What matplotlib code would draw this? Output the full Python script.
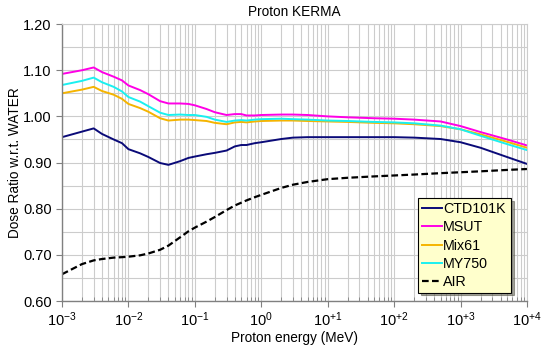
import matplotlib
matplotlib.use("Agg")
import matplotlib.pyplot as plt
from matplotlib.ticker import LogLocator, MultipleLocator, FixedLocator, NullFormatter

plt.rcParams['font.family'] = ['Liberation Sans', 'DejaVu Sans']
plt.rcParams['mathtext.fontset'] = 'custom'
plt.rcParams['mathtext.rm'] = 'Liberation Sans'
plt.rcParams['mathtext.it'] = 'Liberation Sans'

# Энергия протонов (МэВ)
energy = [0.001, 0.002, 0.003, 0.004, 0.006, 0.008, 0.01, 0.015, 0.02, 0.03, 0.04,
          0.06, 0.08, 0.1, 0.15, 0.2, 0.3, 0.4, 0.5, 0.6, 0.8, 1, 2, 3, 5, 10, 20,
          50, 100, 200, 500, 1000, 2000, 5000, 10000]

ctd101k = [0.955, 0.967, 0.974, 0.962, 0.950, 0.942, 0.929, 0.920, 0.912, 0.899, 0.895,
           0.903, 0.910, 0.913, 0.918, 0.921, 0.926, 0.935, 0.938, 0.938, 0.942, 0.944,
           0.951, 0.954, 0.955, 0.955, 0.955, 0.955, 0.955, 0.954, 0.951, 0.944, 0.932,
           0.912, 0.897]
msut = [1.092, 1.100, 1.106, 1.096, 1.086, 1.078, 1.067, 1.057, 1.048, 1.033, 1.028,
        1.028, 1.027, 1.024, 1.016, 1.009, 1.003, 1.005, 1.005, 1.002, 1.002, 1.003,
        1.004, 1.004, 1.003, 1.000, 0.998, 0.996, 0.995, 0.993, 0.989, 0.979, 0.966,
        0.950, 0.937]
mix61 = [1.050, 1.058, 1.064, 1.055, 1.047, 1.038, 1.027, 1.018, 1.010, 0.996, 0.991,
         0.993, 0.993, 0.992, 0.990, 0.986, 0.983, 0.987, 0.988, 0.987, 0.989, 0.990,
         0.991, 0.991, 0.990, 0.989, 0.988, 0.986, 0.985, 0.983, 0.979, 0.972, 0.961,
         0.945, 0.932]
my750 = [1.068, 1.077, 1.084, 1.074, 1.064, 1.054, 1.042, 1.032, 1.022, 1.008, 1.003,
         1.004, 1.003, 1.003, 0.999, 0.993, 0.988, 0.991, 0.992, 0.991, 0.993, 0.994,
         0.995, 0.994, 0.993, 0.991, 0.990, 0.988, 0.987, 0.985, 0.980, 0.972, 0.958,
         0.940, 0.927]
air = [0.658, 0.680, 0.688, 0.691, 0.694, 0.695, 0.696, 0.699, 0.703, 0.711, 0.720,
       0.738, 0.751, 0.759, 0.772, 0.782, 0.797, 0.807, 0.813, 0.818, 0.825, 0.830,
       0.845, 0.852, 0.858, 0.864, 0.867, 0.870, 0.872, 0.874, 0.877, 0.879, 0.881,
       0.884, 0.886]

x_ticks = [1e-3, 1e-2, 1e-1, 1, 10, 100, 1000, 10000]
x_tick_labels = [r'$10^{-3}$', r'$10^{-2}$', r'$10^{-1}$', r'$10^{0}$',
                 r'$10^{+1}$', r'$10^{+2}$', r'$10^{+3}$', r'$10^{+4}$']
y_ticks = [0.60, 0.70, 0.80, 0.90, 1.00, 1.10, 1.20]

fig = plt.figure(figsize=(5.5, 3.49), dpi=100)
ax = fig.add_axes([0.1127, 0.1375, 0.8455, 0.7935])

lw = 1.4
ax.plot(energy, ctd101k, color='#0a0a78', lw=lw, label='CTD101K')
ax.plot(energy, msut, color='#ff00e6', lw=lw, label='MSUT')
ax.plot(energy, mix61, color='#f5b400', lw=lw, label='Mix61')
ax.plot(energy, my750, color='#1af0f0', lw=lw, label='MY750')
ax.plot(energy, air, color='black', lw=1.6, ls=(0, (3, 1.5)), label='AIR')

ax.set_xscale('log')
ax.set_xlim(1e-3, 1e4)
ax.set_ylim(0.6, 1.2)

ax.xaxis.set_major_locator(FixedLocator(x_ticks))
ax.set_xticklabels(x_tick_labels)
ax.xaxis.set_minor_locator(LogLocator(base=10, subs=range(2, 10), numticks=20))
ax.xaxis.set_minor_formatter(NullFormatter())
ax.yaxis.set_major_locator(FixedLocator(y_ticks))
ax.set_yticklabels(['%.2f' % v for v in y_ticks])
ax.yaxis.set_minor_locator(MultipleLocator(0.05))

# Сетка
ax.grid(True, which='both', color='#cccccc', lw=0.8)
ax.set_axisbelow(True)

for side in ['top', 'right']:
    ax.spines[side].set_color('#cccccc')
for side in ['left', 'bottom']:
    ax.spines[side].set_color('#808080')
    ax.spines[side].set_linewidth(1.0)

ax.tick_params(axis='both', which='major', labelsize=10.5, colors='#808080',
               labelcolor='black', length=4, direction='out')
ax.tick_params(axis='x', which='minor', direction='in', length=3, colors='#808080')
ax.tick_params(axis='y', which='minor', length=0)
ax.tick_params(axis='x', pad=3)

ax.set_title('Proton KERMA', fontsize=9.8, pad=6)
ax.set_xlabel('Proton energy (MeV)', fontsize=9.8, labelpad=1)
ax.set_ylabel('Dose Ratio w.r.t. WATER', fontsize=9.8, labelpad=1)

leg = ax.legend(loc='lower left', bbox_to_anchor=(0.766, 0.03, 0.2, 0.356),
                mode='expand', fontsize=10.3, handlelength=1.4, handletextpad=0.1,
                labelspacing=0.3, borderaxespad=0, borderpad=0.25,
                fancybox=False, shadow=True, framealpha=1)
leg.get_frame().set_facecolor('#ffffcc')
leg.get_frame().set_edgecolor('black')
leg.get_frame().set_linewidth(0.8)

fig.savefig('out.png', dpi=100)
